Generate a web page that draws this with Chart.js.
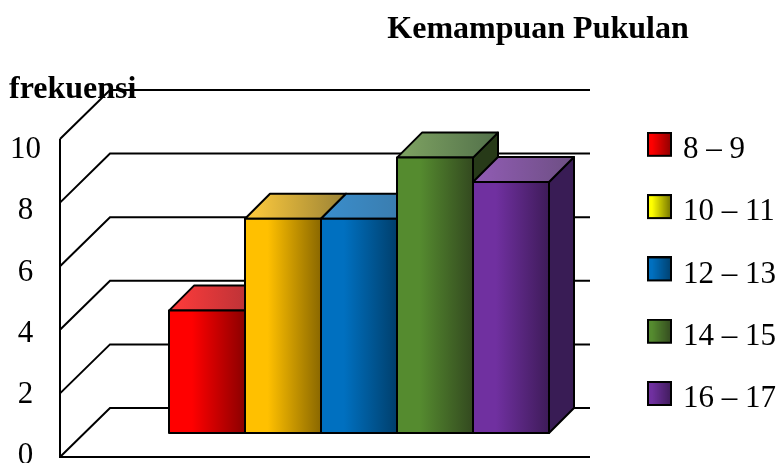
<!DOCTYPE html>
<html>
<head>
<meta charset="utf-8">
<style>html,body{margin:0;padding:0;background:#fff}canvas{display:block}</style>
<script src="https://cdn.jsdelivr.net/npm/chart.js@4/dist/chart.umd.min.js"></script>
</head>
<body>
<canvas id="c" width="779" height="463"></canvas>
<script>
const CHART_TITLE = 'Kemampuan Pukulan';
const AXIS_TITLE = 'frekuensi';
const CATEGORIES = ['8 – 9', '10 – 11', '12 – 13', '14 – 15', '16 – 17'];
const FREQUENCIES = [4, 7, 7, 9, 8.2];
const TICK_VALUES = [0, 2, 4, 6, 8, 10];
const FRONT_LIGHT = ['#ff0000', '#ffc000', '#0070c0', '#558b2f', '#7030a0'];
const FRONT_DARK = ['#8b0000', '#8a6800', '#003f6c', '#33491f', '#3e1b59'];
const TOP_LIGHT = ['#f83a3a', '#f8c63c', '#3a8cc9', '#7b9f60', '#8e5bb0'];
const TOP_DARK = ['#a93036', '#9a8236', '#3a78a6', '#52704a', '#6d4f83'];
const SIDE_COLOR = ['#5c0000', '#5c4600', '#00304f', '#273a18', '#391c55'];
const LEGEND_LIGHT = ['#ff0000', '#ffff00', '#0070c0', '#558b2f', '#7030a0'];
const LEGEND_DARK = ['#8b0000', '#6e6e00', '#003f6c', '#33491f', '#3e1b59'];

const SERIF = "'Liberation Serif', serif";
const BAR_SHIFT = {x: 59, y: -20};
const BAR_DEPTH = 25;
const WALL_DEPTH = {x: 50, y: 49};
const WALL_STRETCH = 318 / 306;
const WALL_DROP = 4;

function legendSwatch(i) {
  const cv = document.createElement('canvas');
  cv.width = 25; cv.height = 36;
  const g = cv.getContext('2d');
  const gr = g.createLinearGradient(0, 0, 25, 0);
  gr.addColorStop(0.2, LEGEND_LIGHT[i]);
  gr.addColorStop(1, LEGEND_DARK[i]);
  g.fillStyle = gr;
  g.fillRect(1, 1, 23, 23);
  g.strokeStyle = '#000';
  g.lineWidth = 2;
  g.strokeRect(1, 1, 23, 23);
  return cv;
}

const threeD = {
  id: 'threeD',
  beforeDatasetsDraw(chart) {
    const ctx = chart.ctx, a = chart.chartArea, y = chart.scales.y;
    const wallY = v => a.bottom + WALL_DROP - (a.bottom - y.getPixelForValue(v)) * WALL_STRETCH;
    ctx.save();
    ctx.strokeStyle = '#000';
    ctx.lineWidth = 2;
    ctx.beginPath();
    TICK_VALUES.forEach(v => {
      const yy = wallY(v);
      ctx.moveTo(a.left, yy);
      ctx.lineTo(a.left + WALL_DEPTH.x, yy - WALL_DEPTH.y);
      ctx.lineTo(a.right + WALL_DEPTH.x, yy - WALL_DEPTH.y);
    });
    ctx.moveTo(a.left, wallY(10));
    ctx.lineTo(a.left, wallY(0));
    ctx.lineTo(a.right + WALL_DEPTH.x, wallY(0));
    ctx.stroke();
    ctx.restore();

    ctx.save();
    ctx.translate(BAR_SHIFT.x, BAR_SHIFT.y);
    ctx.lineWidth = 2;
    ctx.strokeStyle = '#000';
    ctx.lineJoin = 'round';
    chart.data.datasets.forEach((ds, i) => {
      const el = chart.getDatasetMeta(i).data[0];
      const l = el.x - el.width / 2, r = el.x + el.width / 2, t = el.y, b = el.base, d = BAR_DEPTH;
      ctx.fillStyle = SIDE_COLOR[i];
      ctx.beginPath();
      ctx.moveTo(r, t); ctx.lineTo(r + d, t - d); ctx.lineTo(r + d, b - d); ctx.lineTo(r, b); ctx.closePath();
      ctx.fill(); ctx.stroke();
      const tg = ctx.createLinearGradient(l, 0, r + d, 0);
      tg.addColorStop(0.1, TOP_LIGHT[i]);
      tg.addColorStop(1, TOP_DARK[i]);
      ctx.fillStyle = tg;
      ctx.beginPath();
      ctx.moveTo(l, t); ctx.lineTo(l + d, t - d); ctx.lineTo(r + d, t - d); ctx.lineTo(r, t); ctx.closePath();
      ctx.fill(); ctx.stroke();
      const fg = ctx.createLinearGradient(l, 0, r, 0);
      fg.addColorStop(0.3, FRONT_LIGHT[i]);
      fg.addColorStop(1, FRONT_DARK[i]);
      el.options = Object.assign({}, el.options, {backgroundColor: fg});
    });
  },
  afterDatasetsDraw(chart) {
    const ctx = chart.ctx;
    chart.data.datasets.forEach((ds, i) => {
      const el = chart.getDatasetMeta(i).data[0];
      ctx.strokeRect(el.x - el.width / 2, el.y, el.width, el.base - el.y);
    });
    ctx.restore();
  },
  afterLayout(chart) {
    const tb = chart.titleBlock;
    tb.left = 387; tb.right = 689;
    const lg = chart.legend;
    lg.left = 620.2; lg.right = 779; lg.top = 103; lg.bottom = 463;
  },
  afterDraw(chart) {
    const ctx = chart.ctx;
    ctx.save();
    ctx.font = 'bold 32px ' + SERIF;
    ctx.fillStyle = '#000';
    ctx.textBaseline = 'alphabetic';
    ctx.textAlign = 'left';
    ctx.fillText(AXIS_TITLE, 9, 98);
    ctx.restore();
  }
};

new Chart(document.getElementById('c'), {
  type: 'bar',
  data: {
    labels: [''],
    datasets: CATEGORIES.map((name, i) => ({
      label: name,
      data: [FREQUENCIES[i]],
      backgroundColor: FRONT_LIGHT[i],
      borderWidth: 0,
      clip: false,
      categoryPercentage: 380 / 480,
      barPercentage: 1
    }))
  },
  options: {
    responsive: false,
    animation: false,
    layout: {autoPadding: false, padding: {top: 9, left: 0, right: 238, bottom: 10}},
    scales: {
      x: {display: false},
      y: {
        min: 0, max: 10,
        afterFit(s) { s.width = 60; s.paddingTop = 0; s.paddingBottom = 0; },
        border: {display: false},
        grid: {display: false, drawTicks: false},
        ticks: {
          stepSize: 2, padding: 19, crossAlign: 'center', color: '#000', labelOffset: 3,
          font: {family: SERIF, size: 31}
        }
      }
    },
    plugins: {
      tooltip: {enabled: false},
      title: {
        display: true, text: CHART_TITLE, color: '#000',
        font: {family: SERIF, size: 32, weight: 'bold'},
        padding: {top: 2, bottom: 97.6}
      },
      legend: {
        position: 'right', align: 'start', maxWidth: 1,
        labels: {
          color: '#000', padding: 31.3, usePointStyle: true, pointStyleWidth: 16,
          font: {family: SERIF, size: 31},
          generateLabels: () => CATEGORIES.map((name, i) => ({
            text: name, pointStyle: legendSwatch(i), fontColor: '#000', datasetIndex: i, lineWidth: 0, hidden: false
          }))
        }
      }
    }
  },
  plugins: [threeD]
});
</script>
</body>
</html>
